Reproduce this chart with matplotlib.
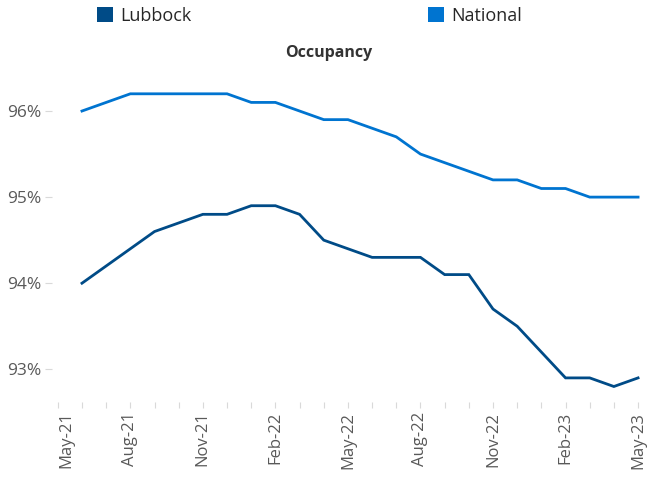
import matplotlib.pyplot as plt
import matplotlib.transforms as mtransforms
from matplotlib.patches import Patch

# monthly axis May-21 .. May-23, data starts Jun-21
months = ['May-21', 'Jun-21', 'Jul-21', 'Aug-21', 'Sep-21', 'Oct-21', 'Nov-21',
          'Dec-21', 'Jan-22', 'Feb-22', 'Mar-22', 'Apr-22', 'May-22', 'Jun-22',
          'Jul-22', 'Aug-22', 'Sep-22', 'Oct-22', 'Nov-22', 'Dec-22', 'Jan-23',
          'Feb-23', 'Mar-23', 'Apr-23', 'May-23']
lubbock = [94.0, 94.2, 94.4, 94.6, 94.7, 94.8, 94.8, 94.9, 94.9, 94.8, 94.5, 94.4,
           94.3, 94.3, 94.3, 94.1, 94.1, 93.7, 93.5, 93.2, 92.9, 92.9, 92.8, 92.9]
national = [96.0, 96.1, 96.2, 96.2, 96.2, 96.2, 96.2, 96.1, 96.1, 96.0, 95.9, 95.9,
            95.8, 95.7, 95.5, 95.4, 95.3, 95.2, 95.2, 95.1, 95.1, 95.0, 95.0, 95.0]
y_ticks = [93, 94, 95, 96]

c_lub = '#004B87'
c_nat = '#0074D0'
grey = '#595959'

plt.rcParams['font.family'] = ['Open Sans', 'DejaVu Sans']

fig = plt.figure(figsize=(6.47, 4.8), dpi=100)
ax = fig.add_axes([52 / 647, 1 - 402 / 480, (640 - 52) / 647, (402 - 89.5) / 480])

x = list(range(1, len(months)))
ax.plot(x, national, color=c_nat, lw=2.0, solid_joinstyle='miter')
ax.plot(x, lubbock, color=c_lub, lw=2.0, solid_joinstyle='miter')

ax.set_xlim(-0.24, 24.08)
ax.set_ylim(92.62, 96.25)

labels = [m if i % 3 == 0 else '' for i, m in enumerate(months)]
ax.set_xticks(range(len(months)))
ax.set_xticklabels(labels, rotation=90, fontsize=12, color=grey)
ax.set_yticks(y_ticks)
ax.set_yticklabels([f'{v}%' for v in y_ticks], fontsize=12.5, color=grey)
ax.tick_params(axis='x', length=4, color='#D9D9D9', pad=3)
ax.tick_params(axis='y', length=5, color='#D9D9D9', pad=3)

# first label sits a bit right of its tick, like the original
first = ax.get_xticklabels()[0]
first.set_transform(first.get_transform() +
                    mtransforms.ScaledTranslation(9 / 100, 0, fig.dpi_scale_trans))

for s in ax.spines.values():
    s.set_visible(False)

fig.text(329 / 647, 1 - 53 / 480, 'Occupancy', ha='center', va='center',
         fontsize=11.5, fontweight='bold', color='#333333')

for name, col, xpos in [('Lubbock', c_lub, 97), ('National', c_nat, 428)]:
    fig.legend(handles=[Patch(facecolor=col, label=name)], loc='center left',
               bbox_to_anchor=(xpos / 647, 1 - 16 / 480), frameon=False,
               fontsize=13, handlelength=0.9, handleheight=0.9,
               handletextpad=0.4, borderpad=0, borderaxespad=0,
               labelcolor='#262626')

fig.savefig('out.png', dpi=100)
